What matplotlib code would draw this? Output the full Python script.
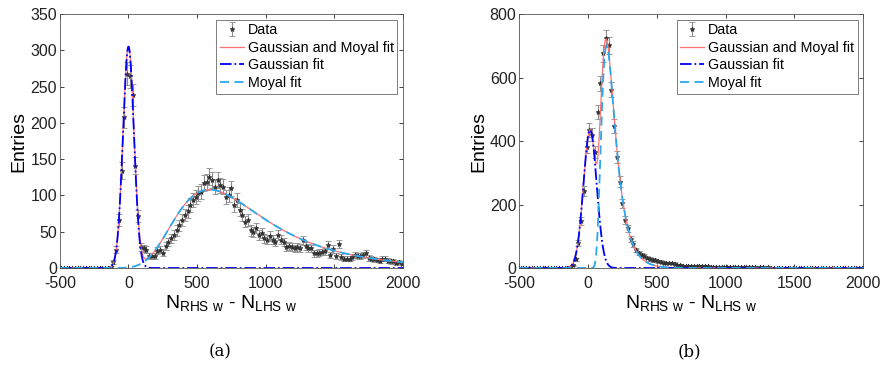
import numpy as np
import matplotlib
matplotlib.use("Agg")
import matplotlib.pyplot as plt

plt.rcParams['font.family'] = ['Liberation Sans', 'DejaVu Sans']
plt.rcParams['mathtext.fontset'] = 'custom'
plt.rcParams['mathtext.rm'] = 'Liberation Sans'
plt.rcParams['axes.unicode_minus'] = False

# ##################################################
# Data (histogram bin centres, bin width 20)
# ##################################################

bin_centres = np.arange(-490, 2000, 20)

counts_a = [
    0, 0, 0, 0, 0, 0, 0, 0, 0, 0, 0, 0, 0, 0, 0, 0, 0, 0,   # -490 .. -150
    2, 8, 25, 66, 134, 208, 268, 264, 238, 141, 72, 29,      # -130 .. 90
    27, 25, 16, 17, 16, 24, 25, 21, 30, 36, 41, 45,          # 110 .. 330
    52, 59, 66, 73, 78, 87, 94, 98, 103, 105, 117, 119,      # 350 .. 570
    126, 121, 112, 121, 114, 112, 98, 101, 110, 87, 94, 80,  # 590 .. 810
    73, 64, 66, 52, 50, 55, 45, 48, 41, 39, 44, 39,          # 830 .. 1050
    36, 45, 39, 36, 29, 30, 29, 27, 29, 28, 38, 30,          # 1070 .. 1290
    28, 27, 20, 20, 21, 22, 23, 32, 18, 26, 16, 33,          # 1310 .. 1530
    15, 13, 13, 13, 15, 18, 17, 17, 18, 20, 14, 13,          # 1550 .. 1770
    12, 11, 10, 13, 13, 10, 9, 9, 7, 8, 6,                   # 1790 .. 1990
]

counts_b = [
    0, 0, 0, 0, 0, 0, 0, 0, 0, 0, 0, 0, 0, 0, 0, 0, 0, 0,   # -490 .. -150
    3, 8, 27, 78, 147, 242, 382, 435, 419, 366, 492, 582,    # -130 .. 90
    676, 723, 702, 561, 447, 351, 272, 204, 150, 125, 92, 75,  # 110 .. 330
    57, 48, 42, 38, 33, 28, 25, 24, 22, 20, 17, 15,          # 350 .. 570
    16, 15, 14, 10, 9, 7, 6, 6, 5, 6, 5, 6,                  # 590 .. 810
    7, 6, 5, 4, 4, 4, 3, 3, 3, 4, 3, 2,                      # 830 .. 1050
    2, 3, 2, 2, 2, 2, 2, 2, 1, 2, 2, 1,                      # 1070 .. 1290
    2, 1, 1, 1, 1, 1, 1, 1, 1, 1, 1, 1,                      # 1310 .. 1530
    1, 1, 1, 1, 1, 1, 1, 1, 1, 1, 1, 1,                      # 1550 .. 1770
    1, 1, 1, 1, 1, 1, 1, 1, 1, 1, 1,                         # 1790 .. 1990
]

# fit parameters: gaussian (amplitude, mean, sigma), moyal (peak height, mpv, scale)
gauss_a = (305, 0, 40)
moyal_a = (108, 590, 227)
gauss_b = (435, 15, 48)
moyal_b = (700, 135, 35)

panel_labels = ['(a)', '(b)']
y_limits = [(0, 350), (0, 800)]
y_ticks = [np.arange(0, 351, 50), np.arange(0, 801, 200)]


def gaussian(x, amp, mu, sigma):
    return amp * np.exp(-(x - mu) ** 2 / (2 * sigma ** 2))


def moyal(x, peak, mu, s):
    lam = np.clip((x - mu) / s, -30, None)
    return peak * np.exp(-0.5 * (lam + np.exp(-lam))) / np.exp(-0.5)


def draw_panel(ax, counts, gpar, mpar, ylim, yticks):
    counts = np.array(counts, dtype=float)
    assert len(counts) == len(bin_centres)
    err = np.sqrt(counts)
    xf = np.linspace(-500, 2000, 2000)
    g = gaussian(xf, *gpar)
    m = moyal(xf, *mpar)

    h_data = ax.errorbar(bin_centres, counts, yerr=err, fmt='*', color='#333333',
                         ecolor='#8c8c8c', elinewidth=0.8, capsize=2.5, capthick=0.8,
                         markersize=3.5, markeredgewidth=0.6, zorder=2)
    h_sum, = ax.plot(xf, g + m, color='#ff7070', lw=0.9, zorder=3)
    h_g, = ax.plot(xf, g, color='#0000ff', lw=1.3, ls='-.', zorder=4)
    h_m, = ax.plot(xf, m, color='#2aa8f0', lw=1.3, ls=(0, (5, 3)), zorder=4)

    ax.set_xlim(-500, 2000)
    ax.set_ylim(*ylim)
    ax.set_xticks(np.arange(-500, 2001, 500))
    ax.set_yticks(yticks)
    ax.tick_params(direction='in', length=3, width=0.6, labelsize=11.5,
                   top=True, right=True, colors='#222222', pad=2)
    ax.tick_params(axis='x', pad=6)
    for sp in ax.spines.values():
        sp.set_color('#555555')
        sp.set_linewidth(0.6)
    ax.set_ylabel('Entries', fontsize=14, labelpad=2)
    ax.set_xlabel(r'N$_{\mathregular{RHS\ w}}$ - N$_{\mathregular{LHS\ w}}$', fontsize=14, labelpad=2)
    leg = ax.legend([h_data, h_sum, h_g, h_m],
                    ['Data', 'Gaussian and Moyal fit', 'Gaussian fit', 'Moyal fit'],
                    loc='upper right', fontsize=10.3, frameon=True, fancybox=False,
                    borderpad=0.25, labelspacing=0.25, handlelength=1.7,
                    handletextpad=0.25, borderaxespad=0.4)
    leg.get_frame().set_edgecolor('#444444')
    leg.get_frame().set_linewidth(0.6)


fig = plt.figure(figsize=(8.8, 3.71), dpi=100)
ax_a = fig.add_axes([0.068, 0.2776, 0.390, 0.6846])
ax_b = fig.add_axes([0.590, 0.2776, 0.391, 0.6846])

draw_panel(ax_a, counts_a, gauss_a, moyal_a, y_limits[0], y_ticks[0])
draw_panel(ax_b, counts_b, gauss_b, moyal_b, y_limits[1], y_ticks[1])

fig.text(0.250, 0.04, panel_labels[0], ha='center', family='DejaVu Serif', fontsize=12)
fig.text(0.784, 0.04, panel_labels[1], ha='center', family='DejaVu Serif', fontsize=12)

fig.savefig('out.png', dpi=100)
